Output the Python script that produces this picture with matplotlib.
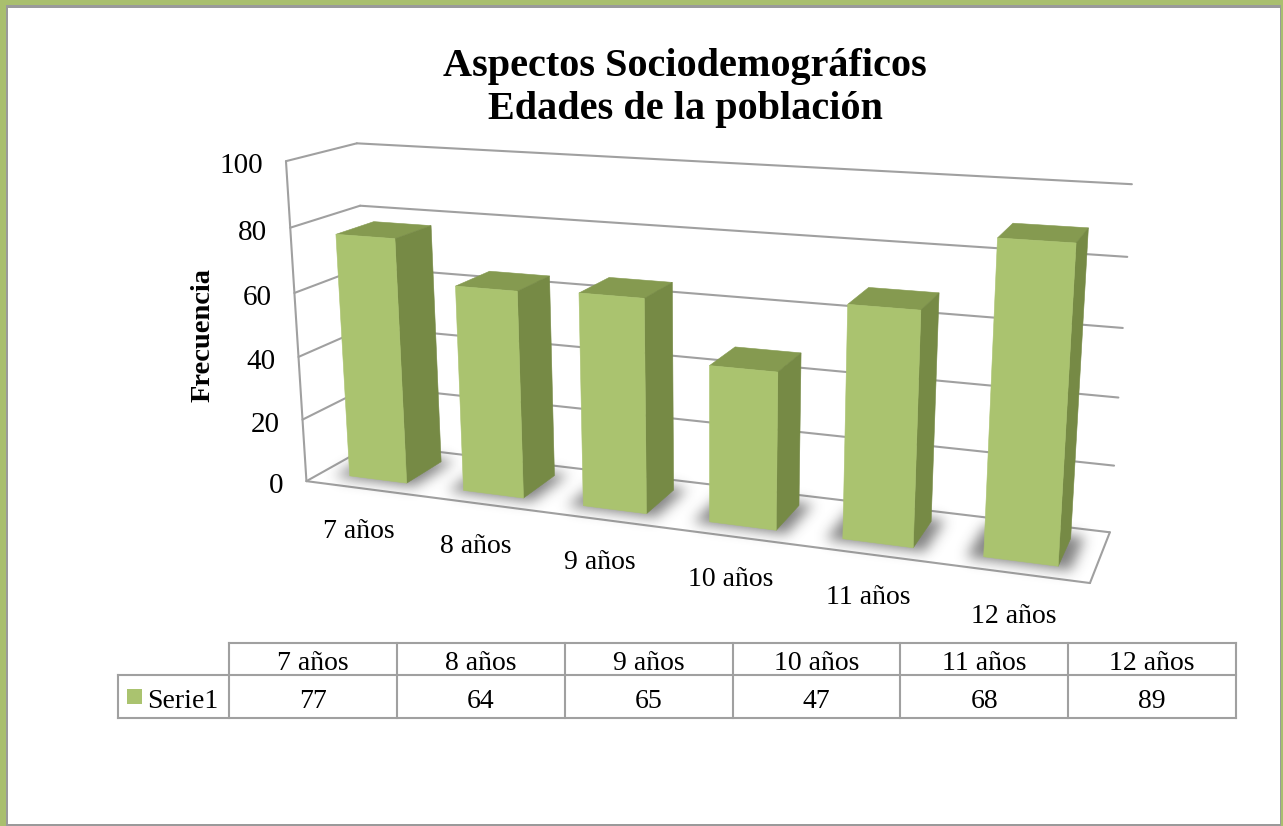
import numpy as np
import matplotlib
matplotlib.use('Agg')
import matplotlib.pyplot as plt
from matplotlib.patches import Polygon, Rectangle
from matplotlib.path import Path

categories = ['7 años', '8 años', '9 años', '10 años', '11 años', '12 años']
values = [77, 64, 65, 47, 68, 89]
series_name = 'Serie1'
y_ticks = [0, 20, 40, 60, 80, 100]

FRONT = '#AAC36F'
SIDE = '#768A45'
TOP = '#859A50'
GRID = '#A0A0A0'

plt.rcParams['font.family'] = ['Liberation Serif', 'DejaVu Serif']

# camera: box corners (category, depth, value) against where they land in the picture
world = np.array([(0, 0, 100), (0, 1, 100), (6, 1, 100), (0, 0, 0), (6, 0, 0), (6, 1, 0),
                  (6, 1, 80), (6, 1, 20), (0, 0, 80), (0, 1, 80), (0, 0, 60)], float)
image = np.array([(285, 161), (357, 143), (1132, 184), (306, 481), (1090, 583), (1110, 532),
                  (1127, 257), (1114, 466), (291, 228), (360, 206), (295, 293)], float)

rows = []
rhs = []
for (X, Y, Z), (u, v) in zip(world, image):
    rows.append([X, Y, Z, 1, 0, 0, 0, 0, -u * X, -u * Y, -u * Z])
    rows.append([0, 0, 0, 0, X, Y, Z, 1, -v * X, -v * Y, -v * Z])
    rhs += [u, v]
cam = np.linalg.lstsq(np.array(rows), np.array(rhs), rcond=None)[0]
cam = np.append(cam, 1).reshape(3, 4)


def project(x, y, z):
    p = cam @ np.array([x, y, z, 1.0])
    return p[0] / p[2], p[1] / p[2]


W, H = 1283, 826
fig = plt.figure(figsize=(12.83, 8.26), dpi=100)
ax = fig.add_axes([0, 0, 1, 1])
ax.axis('off')

# frame
ax.add_patch(Rectangle((0, 0), W, H, fc='#A9BF6E', ec='none', zorder=0))
ax.add_patch(Rectangle((6, 5), 1275, 821, fc='#9A9A9A', ec='none', zorder=0))
ax.add_patch(Rectangle((7.5, 7.5), 1272, 816.5, fc='white', ec='none', zorder=0))

n = len(categories)


def line3d(a, b):
    pa, pb = project(*a), project(*b)
    ax.plot([pa[0], pb[0]], [pa[1], pb[1]], color=GRID, lw=1.5, solid_capstyle='round', zorder=1)


for t in y_ticks:
    line3d((0, 0, t), (0, 1, t))
    line3d((0, 1, t), (n, 1, t))
    px, py = project(0, 0, t)
    ax.text(px - 23, py + 5, str(t), ha='right', va='center', fontsize=21, color='black')
line3d((0, 0, 0), (0, 0, 100))
line3d((0, 0, 0), (n, 0, 0))
line3d((n, 0, 0), (n, 1, 0))

gap_l, gap_r = 0.25, 0.243
y0, y1 = 0.225, 0.78


def face(pts, color, z=3):
    ax.add_patch(Polygon([project(*p) for p in pts], closed=True, fc=color, ec=color, lw=0.4, zorder=z))


# blurred shadow of the bar feet on the floor
gx, gy = np.meshgrid(np.arange(W) + 0.5, np.arange(H) + 0.5)
grid_pts = np.column_stack([gx.ravel(), gy.ravel()])
mask = np.zeros(W * H)
for i in range(n):
    x0, x1 = i + gap_l - 0.11, i + 1 - gap_r + 0.09
    foot = [project(x0, y0 - 0.05, 0), project(x1, y0 - 0.05, 0), project(x1, y1 + 0.06, 0), project(x0, y1 + 0.06, 0)]
    mask[Path(foot).contains_points(grid_pts)] = 1
mask = mask.reshape(H, W)
kernel = np.exp(-0.5 * (np.arange(-20, 21) / 6.5) ** 2)
kernel /= kernel.sum()
mask = np.apply_along_axis(lambda r: np.convolve(r, kernel, mode='same'), 1, mask)
mask = np.apply_along_axis(lambda c: np.convolve(c, kernel, mode='same'), 0, mask)
shadow = np.zeros((H, W, 4))
shadow[..., :3] = 0.2
shadow[..., 3] = mask * 0.62
ax.imshow(shadow, extent=(0, W, H, 0), aspect='auto', interpolation='nearest', zorder=2)
ax.set_xlim(0, W)
ax.set_ylim(H, 0)

for i, v in enumerate(values):
    x0, x1 = i + gap_l, i + 1 - gap_r
    face([(x0, y0, v), (x1, y0, v), (x1, y1, v), (x0, y1, v)], TOP)
    face([(x1, y0, 0), (x1, y1, 0), (x1, y1, v), (x1, y0, v)], SIDE)
    face([(x0, y0, 0), (x1, y0, 0), (x1, y0, v), (x0, y0, v)], FRONT)
    px, py = project(i + 0.5, 0, 0)
    ax.text(px - 4 + 0.8 * i, py + 43, categories[i], ha='center', va='center', fontsize=20, color='black')

ax.text(685, 88, 'Aspectos Sociodemográficos\nEdades de la población', ha='center', va='center',
        fontsize=29, fontweight='bold', linespacing=1.18, color='black')
ax.text(203, 335, 'Frecuencia', rotation=90, ha='center', va='center', fontsize=20.5,
        fontweight='bold', color='black')

# data table
col_x = np.linspace(229, 1236, n + 1)
top_y, mid_y, bot_y = 643, 675, 718
for cx in col_x:
    ax.plot([cx, cx], [top_y, bot_y], color=GRID, lw=1.5, zorder=1)
ax.plot([229, 1236], [top_y, top_y], color=GRID, lw=1.5, zorder=1)
ax.plot([118, 1236], [mid_y, mid_y], color=GRID, lw=1.5, zorder=1)
ax.plot([118, 1236], [bot_y, bot_y], color=GRID, lw=1.5, zorder=1)
ax.plot([118, 118], [mid_y, bot_y], color=GRID, lw=1.5, zorder=1)
for i in range(n):
    cx = (col_x[i] + col_x[i + 1]) / 2
    ax.text(cx, 664, categories[i], ha='center', va='center', fontsize=20, color='black')
    ax.text(cx, 701, str(values[i]), ha='center', va='center', fontsize=20, color='black')
ax.add_patch(Rectangle((127, 689), 15, 15, fc=FRONT, ec='none', zorder=2))
ax.text(147, 701, series_name, ha='left', va='center', fontsize=20, color='black')

fig.savefig('out.png', dpi=100)
